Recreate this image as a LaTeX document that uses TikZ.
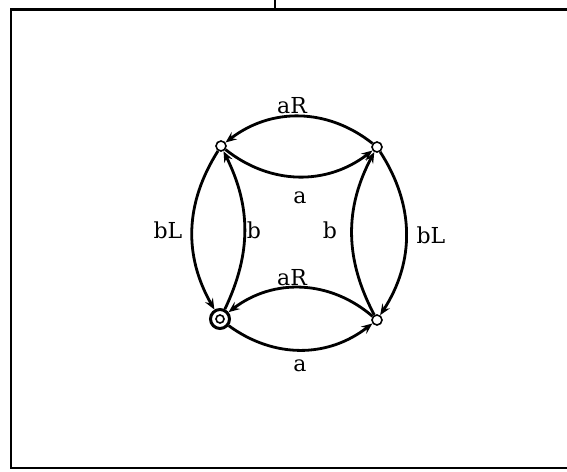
\documentclass[tikz,border=0pt]{standalone}
\usepackage{fontspec}
\setmainfont{DejaVu Serif}
\usetikzlibrary{arrows.meta}
\begin{document}
\begin{tikzpicture}[x=1pt,y=1pt,
  state/.style={circle,draw,line width=1.6pt,fill=white,minimum size=10pt,inner sep=0pt},
  accept/.style={circle,draw,line width=3pt,fill=white,minimum size=19pt,inner sep=0pt},
  edge/.style={line width=2.8pt,-{Stealth[length=11pt,width=9pt,inset=4pt]}},
  lbl/.style={font=\fontsize{22}{24}\selectfont,inner sep=0pt},
  frame/.style={line width=2.8pt}]
\useasboundingbox (0,0) rectangle (567,-471);
% frame
\coordinate (f1) at (567,-9.5);
\coordinate (f2) at (11,-9.5);
\coordinate (f3) at (11,-468);
\coordinate (f4) at (567,-468);
\draw[frame] (f1) -- (f2) -- (f3) -- (f4);
\coordinate (t1) at (275,0);
\coordinate (t2) at (275,-9.5);
\draw[line width=1.8pt] (t1) -- (t2);
% states
\node[state] (TL) at (221,-146) {};
\node[state] (TR) at (377,-147) {};
\node[accept] (BL) at (220,-319) {};
\node[circle,draw,line width=1.6pt,minimum size=8pt,inner sep=0pt] (BLi) at (220,-319) {};
\node[state] (BR) at (377,-320) {};
% edges
\draw[edge] (TR) to[bend right=38] (TL);
\draw[edge] (TL) to[bend right=38] (TR);
\draw[edge] (TL) to[bend right=31] (BL);
\draw[edge] (BL) to[bend right=26] (TL);
\draw[edge] (TR) to[bend left=33] (BR);
\draw[edge] (BR) to[bend left=28] (TR);
\draw[edge] (BR) to[bend right=39] (BL);
\draw[edge] (BL) to[bend right=37] (BR);
% labels
\node[lbl] (l1) at (292,-106) {aR};
\node[lbl] (l2) at (300,-198) {a};
\node[lbl] (l3) at (168,-230) {bL};
\node[lbl] (l4) at (254,-230) {b};
\node[lbl] (l5) at (330,-230) {b};
\node[lbl] (l6) at (431,-235) {bL};
\node[lbl] (l7) at (292,-278) {aR};
\node[lbl] (l8) at (300,-366) {a};
\end{tikzpicture}
\end{document}
